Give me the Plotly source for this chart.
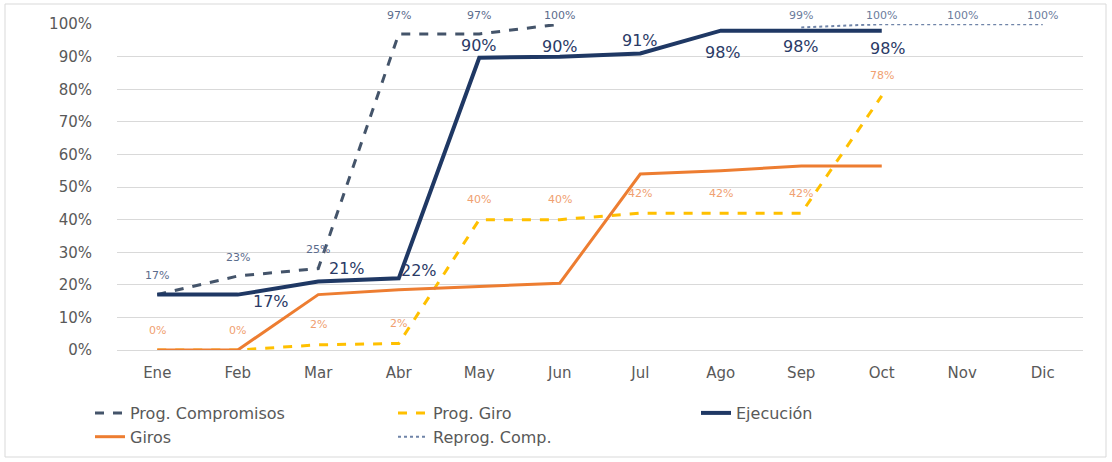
import plotly.graph_objects as go

months = ["Ene", "Feb", "Mar", "Abr", "May", "Jun", "Jul", "Ago", "Sep", "Oct", "Nov", "Dic"]

prog_compromisos = [0.17, 0.227, 0.25, 0.97, 0.97, 1.00]
prog_giro = [0.0, 0.0, 0.016, 0.02, 0.40, 0.40, 0.42, 0.42, 0.42, 0.78]
ejecucion = [0.17, 0.17, 0.21, 0.22, 0.897, 0.90, 0.91, 0.98, 0.98, 0.98]
giros = [0.0, 0.0, 0.17, 0.185, 0.195, 0.205, 0.54, 0.55, 0.565, 0.565]
reprog_months = ["Sep", "Oct", "Nov", "Dic"]
reprog_comp = [0.99, 1.00, 1.00, 1.00]

# label placement (style only): pixel offsets for Ejecución labels, Ene has no label
ejec_label_offsets = [None, (33, -7), (29, 13), (20, 8), (0, 12), (0, 10), (0, 13), (2, -22), (0, -16), (6, -18)]

C_PC = "#44546A"
C_PG = "#FFC000"
C_EJ = "#1F3864"
C_GI = "#ED7D31"
C_RP = "#6F84A8"
TXT = "#595959"

fig = go.Figure()
fig.add_trace(go.Scatter(x=months[:len(prog_compromisos)], y=prog_compromisos, mode="lines",
                         name="Prog. Compromisos", line=dict(color=C_PC, width=3, dash="dash")))
fig.add_trace(go.Scatter(x=months[:len(prog_giro)], y=prog_giro, mode="lines",
                         name="Prog. Giro", line=dict(color=C_PG, width=3, dash="dash")))
fig.add_trace(go.Scatter(x=months[:len(ejecucion)], y=ejecucion, mode="lines",
                         name="Ejecución", line=dict(color=C_EJ, width=4)))
fig.add_trace(go.Scatter(x=months[:len(giros)], y=giros, mode="lines",
                         name="Giros", line=dict(color=C_GI, width=3)))
fig.add_trace(go.Scatter(x=reprog_months, y=reprog_comp, mode="lines",
                         name="Reprog. Comp.", line=dict(color=C_RP, width=2, dash="dot")))

PLOT_H = 326

def top_shift(v):
    return min(19, (1.0 - v) * PLOT_H + 9)

ann = []
small = dict(family="DejaVu Sans", size=11)
for m, v in zip(months, prog_compromisos):
    ann.append(dict(x=m, y=v, text=f"{v*100:.0f}%", showarrow=False, yshift=top_shift(v),
                    font=dict(**small, color="#5B6C8C")))
for m, v in zip(months, prog_giro):
    ann.append(dict(x=m, y=v, text=f"{v*100:.0f}%", showarrow=False, yshift=20,
                    font=dict(**small, color="#F0A070")))
for m, v in zip(reprog_months, reprog_comp):
    ann.append(dict(x=m, y=v, text=f"{v*100:.0f}%", showarrow=False, yshift=top_shift(v),
                    font=dict(**small, color="#6B7C9C")))
for m, v, off in zip(months, ejecucion, ejec_label_offsets):
    if off is None:
        continue
    ann.append(dict(x=m, y=v, text=f"{v*100:.0f}%", showarrow=False, xshift=off[0], yshift=off[1],
                    font=dict(family="DejaVu Sans", size=16, color="#2A3A66")))

fig.update_layout(
    width=1112, height=462,
    margin=dict(l=117, r=29, t=24, b=112, autoexpand=False),
    paper_bgcolor="white", plot_bgcolor="white",
    showlegend=True,
    legend=dict(orientation="h", xref="container", x=90 / 1112, xanchor="left",
                yref="container", y=(462 - 396) / 462, yanchor="top",
                entrywidth=258, entrywidthmode="pixels",
                bgcolor="rgba(0,0,0,0)",
                font=dict(family="DejaVu Sans", size=16, color=TXT),
                traceorder="normal"),
    annotations=ann,
    shapes=[dict(type="rect", xref="paper", yref="paper",
                 x0=(5 - 117) / 966, x1=(1106 - 117) / 966,
                 y0=(350 - 457) / 326, y1=(350 - 4) / 326,
                 line=dict(color="#D9D9D9", width=1), fillcolor="rgba(0,0,0,0)", layer="below")],
)
fig.update_xaxes(type="category", categoryorder="array", categoryarray=months,
                 range=[-0.5, 11.5], showgrid=False, showline=False, ticks="",
                 tickfont=dict(family="DejaVu Sans", size=15, color=TXT), ticklabelstandoff=12)
fig.update_yaxes(range=[0, 1.0005], tickvals=[i / 10 for i in range(11)],
                 ticktext=[f"{i*10}%" for i in range(11)],
                 showgrid=True, gridcolor="#D9D9D9", gridwidth=1,
                 zeroline=True, zerolinecolor="#D9D9D9", zerolinewidth=1,
                 showline=False, ticks="", ticklabelstandoff=24,
                 tickfont=dict(family="DejaVu Sans", size=15, color=TXT))

fig.write_html("out.html")
